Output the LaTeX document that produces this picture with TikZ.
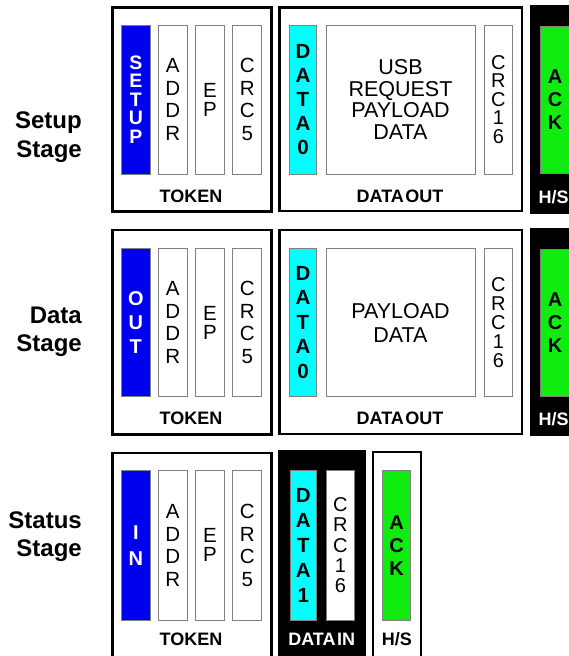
\documentclass[tikz,border=0pt]{standalone}
\usepackage{fontspec}
\setmainfont{Liberation Sans}
\definecolor{tokblue}{RGB}{0,0,240}
\definecolor{datcyan}{RGB}{0,255,255}
\definecolor{ackgreen}{RGB}{16,236,16}
\definecolor{fieldline}{RGB}{128,128,128}
\newcommand\fsz[2]{\fontsize{#1}{#2}\selectfont}
% name, x1, y1, x2, y2, style, text
\newcommand\fieldnode[7]{%
  \pgfmathsetmacro\myfcx{(#2+#4)/2}%
  \pgfmathsetmacro\myfcy{(#3+#5)/2}%
  \pgfmathsetmacro\myfw{#4-#2}%
  \pgfmathsetmacro\myfh{#5-#3}%
  \node[#6, minimum width=\myfw pt, minimum height=\myfh pt] (#1) at (\myfcx,\myfcy) {#7};}
\begin{document}
\begin{tikzpicture}[x=1pt,y=-1pt,
  bigbox/.style={draw=black,line width=2.6pt,fill=white,inner sep=0pt,outer sep=0pt},
  blackbox/.style={draw=black,fill=black,line width=1pt,inner sep=0pt,outer sep=0pt},
  fieldbox/.style={draw=fieldline,line width=0.9pt,fill=white,inner sep=0pt,outer sep=0pt,align=center,text=black},
  pidfield/.style={fieldbox,fill=tokblue,text=white},
  datafield/.style={fieldbox,fill=datcyan},
  ackfield/.style={fieldbox,fill=ackgreen,font=\bfseries\fsz{20}{23}},
  boxlabel/.style={font=\bfseries\fsz{18}{18},inner sep=0pt},
  stagelabel/.style={font=\bfseries\fsz{24}{28},anchor=base east,inner sep=0pt}]
\useasboundingbox (0,0) rectangle (569,656);
\clip (0,0) rectangle (569,656);
\fill[white] (0,0) rectangle (569,656);

% ---------- stage labels ----------
\node[stagelabel] (l1a) at (82,128.9) {Setup};
\node[stagelabel] (l1b) at (82,157.0) {Stage};
\node[stagelabel] (l2a) at (82,323.6) {Data};
\node[stagelabel] (l2b) at (82,351.8) {Stage};
\node[stagelabel] (l3a) at (82,528.6) {Status};
\node[stagelabel] (l3b) at (82,556.0) {Stage};

% ---------- row 1: setup stage ----------
\fieldnode{tok1}{112.3}{7.3}{271.3}{211.7}{bigbox}{}
\fieldnode{dout1}{279.5}{7.3}{522}{211}{bigbox}{}
\fieldnode{hs1}{530}{5.5}{590}{213}{blackbox}{}
\fieldnode{setup1}{121.7}{25}{150}{174}{pidfield,font=\bfseries\fsz{19.5}{18.6}}{S\\E\\T\\U\\P}
\fieldnode{addr1}{158.3}{25}{187.3}{174}{fieldbox,font=\fsz{20.5}{22.8}}{A\\D\\D\\R}
\fieldnode{ep1}{195.7}{25}{224.3}{174}{fieldbox,font=\fsz{20.5}{19}}{E\\P}
\fieldnode{crcf1}{232.7}{25}{261.7}{174}{fieldbox,font=\fsz{20.5}{22.8}}{C\\R\\C\\5}
\fieldnode{data1}{289.3}{25}{316.7}{174}{datafield,font=\bfseries\fsz{20.5}{24}}{D\\A\\T\\A\\0}
\fieldnode{pay1}{326}{25}{475}{174}{fieldbox,font=\fsz{21.5}{21.7}}{USB\\REQUEST\\PAYLOAD\\DATA}
\fieldnode{crcs1}{484}{25}{512.7}{174}{fieldbox,font=\fsz{20}{18.5}}{C\\R\\C\\1\\6}
\fieldnode{ack1}{540.7}{26.7}{569.5}{173.3}{ackfield}{A\\C\\K}
\node[boxlabel] (tl1) at (191,196.7) {TOKEN};
\node[boxlabel] (dl1) at (400,196.7) {DATA\kern1.5pt OUT};
\node[boxlabel,text=white,anchor=west] (hl1) at (538.5,197.5) {H/S};

% ---------- row 2: data stage ----------
\fieldnode{tok2}{112.3}{229.8}{271.3}{434.3}{bigbox}{}
\fieldnode{dout2}{279.5}{229.8}{522}{434}{bigbox}{}
\fieldnode{hs2}{530}{228.5}{590}{435.5}{blackbox}{}
\fieldnode{out2}{121.7}{248.3}{150}{396.7}{pidfield,font=\bfseries\fsz{20}{24}}{O\\U\\T}
\fieldnode{addr2}{158.3}{248.3}{187.3}{396.7}{fieldbox,font=\fsz{20.5}{22.8}}{A\\D\\D\\R}
\fieldnode{ep2}{195.7}{248.3}{224.3}{396.7}{fieldbox,font=\fsz{20.5}{19}}{E\\P}
\fieldnode{crcf2}{232.7}{248.3}{261.7}{396.7}{fieldbox,font=\fsz{20.5}{22.8}}{C\\R\\C\\5}
\fieldnode{data2}{289.3}{248.3}{316.7}{396.7}{datafield,font=\bfseries\fsz{20.5}{24.5}}{D\\A\\T\\A\\0}
\fieldnode{pay2}{326}{248.3}{475}{396.7}{fieldbox,font=\fsz{21.5}{24}}{PAYLOAD\\DATA}
\fieldnode{crcs2}{484}{248.3}{512.7}{396.7}{fieldbox,font=\fsz{20}{19}}{C\\R\\C\\1\\6}
\fieldnode{ack2}{540.7}{249}{569.5}{396}{ackfield}{A\\C\\K}
\node[boxlabel] (tl2) at (191,418.3) {TOKEN};
\node[boxlabel] (dl2) at (400,418.3) {DATA\kern1.5pt OUT};
\node[boxlabel,text=white,anchor=west] (hl2) at (538.5,419) {H/S};

% ---------- row 3: status stage ----------
\fieldnode{tok3}{112.3}{452.8}{271.3}{662}{bigbox}{}
\fieldnode{din3}{278.3}{450.3}{365}{664}{blackbox}{}
\fieldnode{hs3}{372.8}{451.8}{420.8}{662}{bigbox}{}
\fieldnode{in3}{121.7}{470.7}{150}{620}{pidfield,font=\bfseries\fsz{20}{26}}{I\\N}
\fieldnode{addr3}{158.3}{470.7}{187.3}{620}{fieldbox,font=\fsz{20.5}{22.8}}{A\\D\\D\\R}
\fieldnode{ep3}{195.7}{470.7}{224.3}{620}{fieldbox,font=\fsz{20.5}{19}}{E\\P}
\fieldnode{crcf3}{232.7}{470.7}{261.7}{620}{fieldbox,font=\fsz{20.5}{22.8}}{C\\R\\C\\5}
\fieldnode{data3}{290}{470.7}{316.7}{620}{datafield,font=\bfseries\fsz{20.5}{25}}{D\\A\\T\\A\\1}
\fieldnode{crcs3}{326.7}{470.7}{354}{620}{fieldbox,font=\fsz{20}{20.3}}{C\\R\\C\\1\\6}
\fieldnode{ack3}{382.7}{470.7}{410.7}{620}{ackfield}{A\\C\\K}
\node[boxlabel] (tl3) at (191,639) {TOKEN};
\node[boxlabel,text=white] (dl3) at (321.7,639) {DATA\kern1.5pt IN};
\node[boxlabel] (hl3) at (396.8,639) {H/S};
\end{tikzpicture}
\end{document}
